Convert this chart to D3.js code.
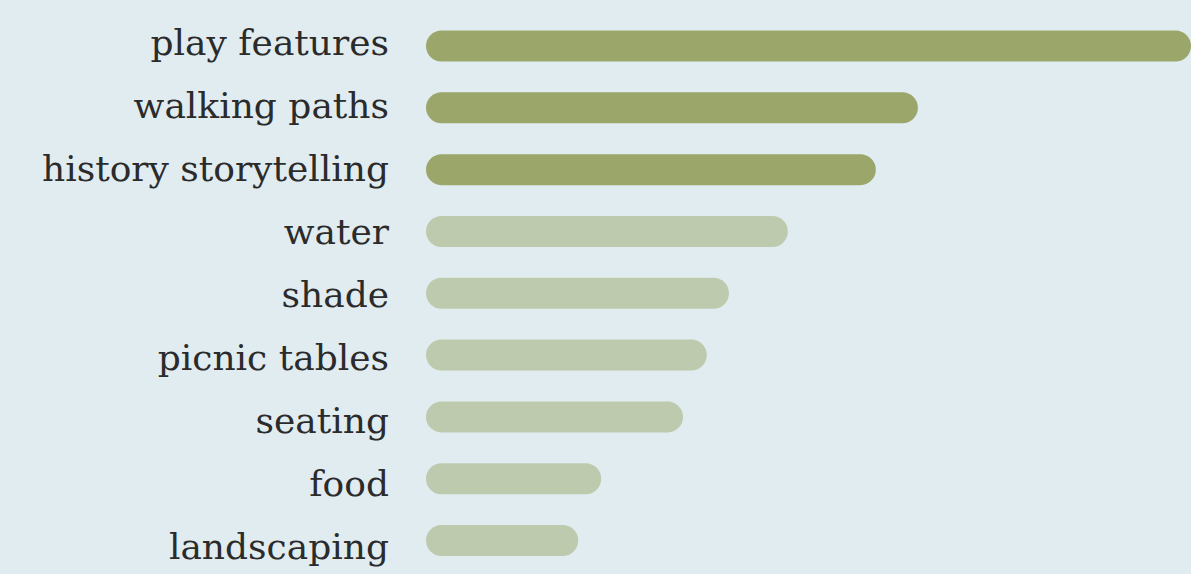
<!DOCTYPE html>
<html lang="en">
<head>
<meta charset="UTF-8">
<script src="https://d3js.org/d3.v7.min.js"></script>
<style>
  html, body { margin: 0; padding: 0; background: #e1ecf1; }
  svg { display: block; }
</style>
</head>
<body>
<div id="Area"></div>
<script>
  // data
  const categories = ["play features", "walking paths", "history storytelling", "water",
                      "shade", "picnic tables", "seating", "food", "landscaping"];
  const values = [100, 64.3, 58.8, 47.3, 39.6, 36.7, 33.6, 22.9, 19.9];
  const highlighted = [true, true, true, false, false, false, false, false, false];

  const width = 1191, height = 574;
  const barLeft = 426, barRight = 1191;

  const svg = d3.select("#Area")
    .append("svg")
      .attr("width", width)
      .attr("height", height);

  svg.append("rect").attr("width", width).attr("height", height).attr("fill", "#e1ecf1");

  const x = d3.scaleLinear().domain([0, 100]).range([barLeft, barRight]);

  // bar centres
  const y = d3.scalePoint()
      .domain(categories)
      .range([46, 540.5]);

  // label baselines (spaced a little wider than the bars)
  const yLabel = d3.scalePoint()
      .domain(categories)
      .range([55, 559]);

  const barH = 31;

  const rows = svg.selectAll("g.row")
    .data(categories.map((c, i) => ({ c, v: values[i], hi: highlighted[i] })))
    .enter()
    .append("g")
      .attr("class", "row");

  rows.append("rect")
      .attr("x", x(0))
      .attr("y", d => y(d.c) - barH / 2)
      .attr("width", d => x(d.v) - x(0))
      .attr("height", barH)
      .attr("rx", barH / 2)
      .attr("fill", d => d.hi ? "#9ba66a" : "#bdcaad");

  rows.append("text")
      .attr("x", 389)
      .attr("y", d => yLabel(d.c))
      .attr("text-anchor", "end")
      .style("font-family", "'DejaVu Serif', serif")
      .style("font-size", "36px")
      .style("fill", "#2b2b2b")
      .text(d => d.c);
</script>
</body>
</html>
